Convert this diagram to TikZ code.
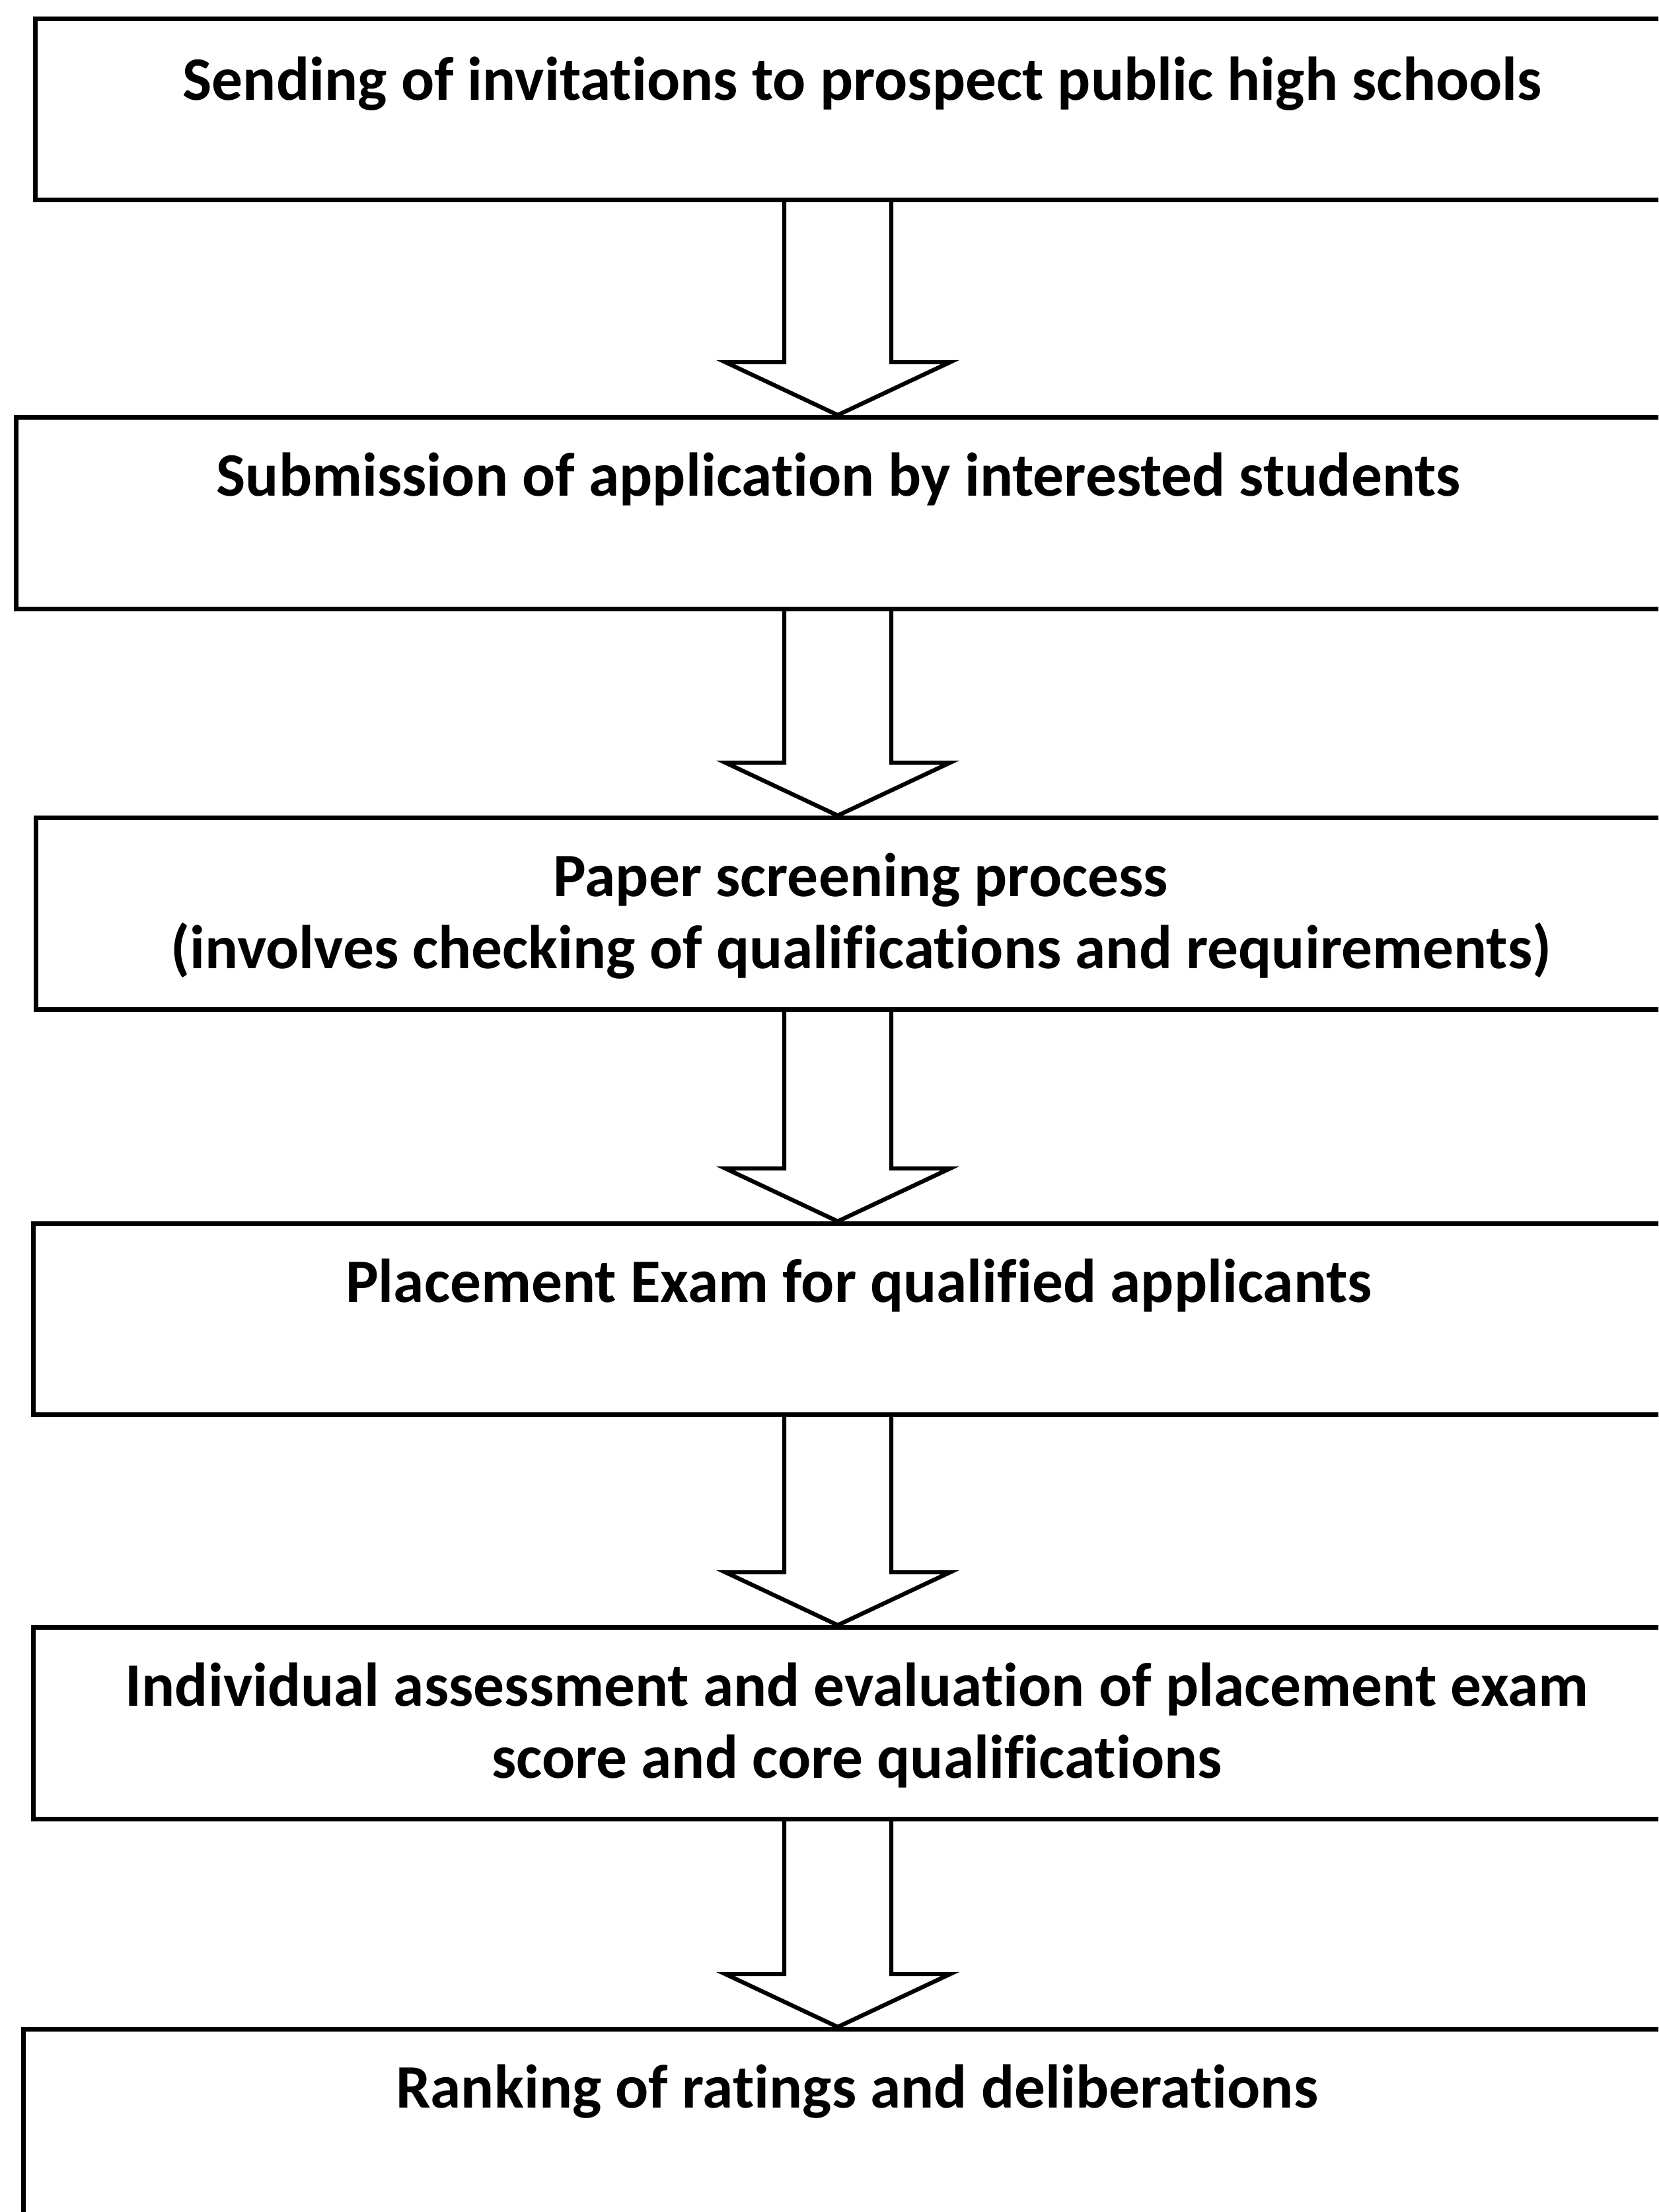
\documentclass[tikz,border=0pt]{standalone}
\usepackage{fontspec}
\setmainfont{Carlito}[Ligatures={NoCommon}]
\usetikzlibrary{calc, positioning}
\tikzstyle{stepbox} = [rectangle, draw=black, line width=2pt, anchor=north west, inner sep=0pt, minimum width=26cm]
\tikzstyle{steptext} = [anchor=north, align=center, inner sep=0pt, font={\fontsize{26.6pt}{31pt}\selectfont\bfseries}]
\tikzstyle{blockarrow} = [draw=black, line width=1.8pt, line join=miter]
% hollow block arrow from the bottom of #1 to the top of #2
\newcommand{\flowarrow}[2]{%
  \draw [blockarrow] ($(axis |- #1.south)+(-0.81,0)$) -- ($(axis |- #2.north)+(-0.81,0.8)$) -- ++(-0.89,0)
    -- (axis |- #2.north) -- ($(axis |- #2.north)+(1.70,0.8)$) -- ++(-0.89,0) -- ($(axis |- #1.south)+(0.81,0)$);}

\begin{document}
\begin{tikzpicture}
    \clip (0,0) rectangle (25.10,-33.47);
    \coordinate (axis) at (12.68,0);

    \node (invite) [stepbox, minimum height=2.74cm] at (0.50,-0.25) {};
    \node (submit) [stepbox, minimum height=2.90cm] at (0.21,-6.28) {};
    \node (screen) [stepbox, minimum height=2.90cm] at (0.51,-12.34) {};
    \node (exam) [stepbox, minimum height=2.89cm] at (0.47,-18.48) {};
    \node (assess) [stepbox, minimum height=2.90cm] at (0.47,-24.59) {};
    \node (rank) [stepbox, minimum height=3.50cm] at (0.32,-30.67) {};

    \node (invitetext) [steptext] at (13.05,-0.85) {Sending of invitations to prospect public high schools};
    \node (submittext) [steptext] at (12.69,-6.84) {Submission of application by interested students};
    \node (screentext) [steptext] at (13.03,-12.90) {Paper screening process\\(involves checking of qualifications and requirements)};
    \node (examtext) [steptext] at (13.00,-19.04) {Placement Exam for qualified applicants};
    \node (assesstext) [steptext] at (12.97,-25.15) {Individual assessment and evaluation of placement exam\\score and core qualifications};
    \node (ranktext) [steptext] at (12.97,-31.23) {Ranking of ratings and deliberations};

    \flowarrow{invite}{submit}
    \flowarrow{submit}{screen}
    \flowarrow{screen}{exam}
    \flowarrow{exam}{assess}
    \flowarrow{assess}{rank}
\end{tikzpicture}
\end{document}
